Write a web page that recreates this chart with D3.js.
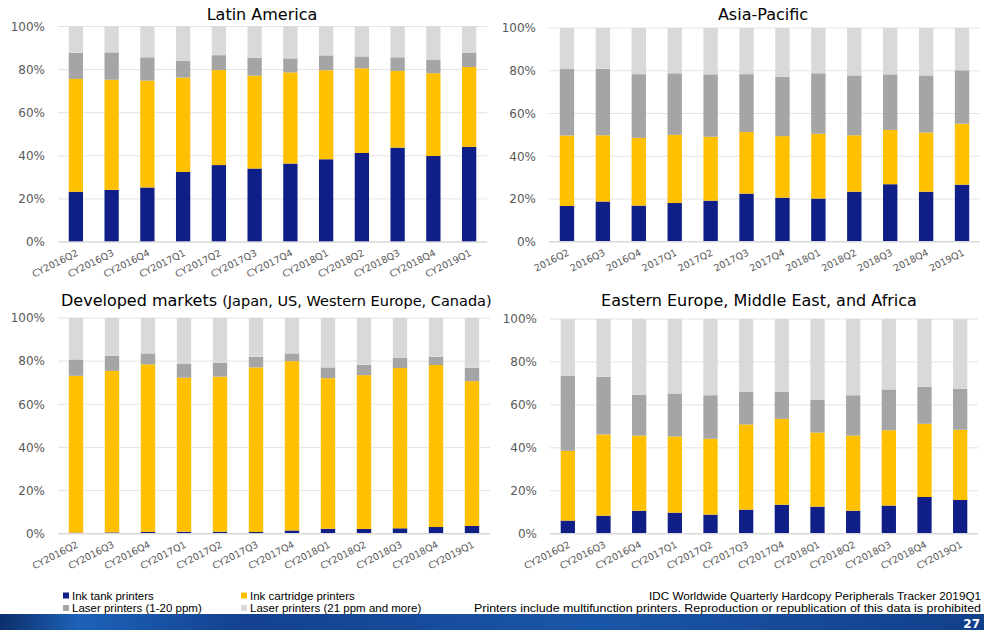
<!DOCTYPE html>
<html>
<head>
<meta charset="utf-8">
<script src="https://cdn.jsdelivr.net/npm/d3@7"></script>
<style>
  body { margin: 0; background: #fff; }
  svg { display: block; }
  .tick text { fill: #595959; }
</style>
</head>
<body>
<svg id="chart" width="984" height="630"></svg>
<script>
// quarters on the x axis
const quartersCY = ["CY2016Q2","CY2016Q3","CY2016Q4","CY2017Q1","CY2017Q2","CY2017Q3",
                    "CY2017Q4","CY2018Q1","CY2018Q2","CY2018Q3","CY2018Q4","CY2019Q1"];
const quartersAP = ["2016Q2","2016Q3","2016Q4","2017Q1","2017Q2","2017Q3",
                    "2017Q4","2018Q1","2018Q2","2018Q3","2018Q4","2019Q1"];

const seriesNames = ["Ink tank printers", "Ink cartridge printers",
                     "Laser printers (1-20 ppm)", "Laser printers (21 ppm and more)"];
const yTicks = [0, 20, 40, 60, 80, 100];

// shares in % (ink tank, ink cartridge, laser 1-20, laser 21+)
const latamInkTank   = [23.3,24.2,25.3,32.5,35.7,34.1,36.4,38.4,41.3,43.8,39.9,44.1];
const latamCartridge = [52.4,51.1,49.6,43.8,44.1,43.1,42.3,41.3,39.3,35.6,38.4,37.1];
const latamLaserLow  = [12.1,12.7,10.8,7.8,6.9,8.3,6.5,6.9,5.5,6.3,6.4,6.5];
const latamLaserHigh = [12.2,12.0,14.3,15.9,13.3,14.5,14.8,13.4,13.9,14.3,15.3,12.3];

const apInkTank   = [16.7,18.8,16.9,18.1,19.2,22.5,20.6,20.2,23.4,26.9,23.4,26.7];
const apCartridge = [33.0,31.0,31.7,31.9,29.9,28.8,28.8,30.3,26.4,25.4,27.7,28.5];
const apLaserLow  = [31.1,31.1,29.8,28.8,29.2,27.1,27.8,28.3,28.0,26.0,26.7,25.0];
const apLaserHigh = [19.2,19.1,21.6,21.2,21.7,21.6,22.8,21.2,22.2,21.7,22.2,19.8];

const devInkTank   = [0.5,0.6,0.8,0.9,0.9,0.8,1.5,2.3,2.2,2.5,3.1,3.6];
const devCartridge = [72.7,74.9,77.7,71.4,71.9,76.3,78.5,69.8,71.3,74.3,75.1,67.1];
const devLaserLow  = [7.6,7.0,5.1,6.6,6.5,4.9,3.6,5.0,4.8,4.8,3.8,6.2];
const devLaserHigh = [19.2,17.5,16.4,21.1,20.7,18.0,16.4,22.9,21.7,18.4,18.0,23.1];

const emeaInkTank   = [6.1,8.4,10.7,9.8,8.9,11.2,13.5,12.6,10.7,13.1,17.1,15.7];
const emeaCartridge = [32.5,37.8,35.0,35.5,35.3,39.7,40.0,34.5,35.0,35.1,34.1,32.7];
const emeaLaserLow  = [35.0,26.9,19.0,20.0,20.3,15.2,12.6,15.3,18.8,19.0,17.2,19.1];
const emeaLaserHigh = [26.4,26.9,35.3,34.7,35.5,33.9,33.9,37.6,35.5,32.8,31.6,32.5];

const colors = ["#0f1f87", "#ffc000", "#a5a5a5", "#d9d9d9"];
const font = "'DejaVu Sans', Verdana, sans-serif";
const smallFont = "'Liberation Sans', Arial, sans-serif";

const svg = d3.select("#chart");

// bottom blue band
const defs = svg.append("defs");
const grad = defs.append("linearGradient").attr("id", "band");
grad.append("stop").attr("offset", "0%").attr("stop-color", "#0c2f6b");
grad.append("stop").attr("offset", "8%").attr("stop-color", "#1d62b8");
grad.append("stop").attr("offset", "25%").attr("stop-color", "#13418f");
grad.append("stop").attr("offset", "60%").attr("stop-color", "#1a56a8");
grad.append("stop").attr("offset", "100%").attr("stop-color", "#123f8a");
svg.append("rect").attr("x", 0).attr("y", 614).attr("width", 984).attr("height", 16)
  .attr("fill", "url(#band)");
svg.append("text").attr("x", 980).attr("y", 628).attr("text-anchor", "end")
  .attr("fill", "#fff").attr("font-weight", "bold").attr("font-family", font)
  .attr("font-size", 12).text("27");

function toRows(cats, a, b, c, d) {
  return cats.map((q, i) => ({ q: q, s0: a[i], s1: b[i], s2: c[i], s3: d[i] }));
}

function drawPanel(opt) {
  const g = svg.append("g");
  const x = d3.scaleBand().domain(opt.cats).range([opt.x0, opt.x1])
    .paddingInner(0.6).paddingOuter(0.3);
  const y = d3.scaleLinear().domain([0, 100]).range([opt.yb, opt.yt]);

  // grid
  g.selectAll("line.grid").data(yTicks.slice(1)).enter().append("line")
    .attr("x1", opt.x0).attr("x2", opt.x1)
    .attr("y1", d => y(d)).attr("y2", d => y(d))
    .attr("stroke", "#e3e3e3").attr("stroke-width", 1);

  const rows = toRows(opt.cats, opt.a, opt.b, opt.c, opt.d);
  const stack = d3.stack().keys(["s0", "s1", "s2", "s3"])(rows);

  g.selectAll("g.layer").data(stack).enter().append("g")
    .attr("fill", (d, i) => colors[i])
    .selectAll("rect").data(d => d).enter().append("rect")
    .attr("x", d => x(d.data.q))
    .attr("width", x.bandwidth())
    .attr("y", d => y(d[1]))
    .attr("height", d => y(d[0]) - y(d[1]));

  // baseline
  g.append("line").attr("x1", opt.x0).attr("x2", opt.x1)
    .attr("y1", y(0)).attr("y2", y(0))
    .attr("stroke", "#d9d9d9").attr("stroke-width", 1.5);

  // y axis
  const ya = g.append("g").attr("transform", `translate(${opt.x0},0)`)
    .call(d3.axisLeft(y).tickValues(yTicks).tickFormat(d => d + "%").tickSize(0).tickPadding(13));
  ya.select(".domain").remove();
  ya.selectAll("text").attr("font-family", font).attr("font-size", 12).attr("fill", "#595959");

  // x axis
  const xa = g.append("g").attr("transform", `translate(0,${opt.yb})`)
    .call(d3.axisBottom(x).tickSize(0));
  xa.select(".domain").remove();
  xa.selectAll("text")
    .attr("font-family", font).attr("font-size", 9.5).attr("fill", "#595959")
    .attr("text-anchor", "end")
    .attr("dy", 0).attr("y", 0)
    .attr("transform", "translate(3,13) rotate(-27)");

  // title
  if (opt.title) {
    g.append("text").attr("x", opt.tx).attr("y", opt.ty).attr("text-anchor", "middle")
      .attr("font-family", font).attr("font-size", 16).attr("fill", "#000")
      .text(opt.title);
  }
  return g;
}

drawPanel({ cats: quartersCY, a: latamInkTank, b: latamCartridge, c: latamLaserLow, d: latamLaserHigh,
  x0: 58, x1: 487, yt: 26.5, yb: 242, title: "Latin America", tx: 262, ty: 20 });
drawPanel({ cats: quartersAP, a: apInkTank, b: apCartridge, c: apLaserLow, d: apLaserHigh,
  x0: 549, x1: 980, yt: 28, yb: 241.7, title: "Asia-Pacific", tx: 763, ty: 20 });
drawPanel({ cats: quartersCY, a: devInkTank, b: devCartridge, c: devLaserLow, d: devLaserHigh,
  x0: 58, x1: 490, yt: 318, yb: 533.7 });
drawPanel({ cats: quartersCY, a: emeaInkTank, b: emeaCartridge, c: emeaLaserLow, d: emeaLaserHigh,
  x0: 550, x1: 978, yt: 319, yb: 533.7, title: "Eastern Europe, Middle East, and Africa", tx: 759, ty: 306 });

// developed markets title with smaller parenthetical
const devTitle = svg.append("text").attr("x", 61).attr("y", 306)
  .attr("font-family", font).attr("fill", "#000");
devTitle.append("tspan").attr("font-size", 16).text("Developed markets ");
devTitle.append("tspan").attr("font-size", 14.5).text("(Japan, US, Western Europe, Canada)");

// legend
const legendPos = [[63, 599.5], [241, 599.5], [63, 612], [241, 612]];
const leg = svg.append("g").selectAll("g").data(seriesNames).enter().append("g")
  .attr("transform", (d, i) => `translate(${legendPos[i][0]},${legendPos[i][1]})`);
leg.append("rect").attr("x", 0).attr("y", -7).attr("width", 6).attr("height", 6)
  .attr("fill", (d, i) => colors[i]);
leg.append("text").attr("x", 9).attr("y", 0)
  .attr("font-family", smallFont).attr("font-size", 11.5).attr("fill", "#000")
  .text(d => d);

// source notes
const notes = ["IDC Worldwide Quarterly Hardcopy Peripherals Tracker 2019Q1",
  "Printers include multifunction printers. Reproduction or republication of this data is prohibited"];
const noteWidths = [332, 507];
svg.append("g").selectAll("text").data(notes).enter().append("text")
  .attr("x", 981).attr("y", (d, i) => 599.5 + i * 12.5)
  .attr("text-anchor", "end")
  .attr("font-family", smallFont).attr("font-size", 11.5).attr("fill", "#000")
  .attr("textLength", (d, i) => noteWidths[i]).attr("lengthAdjust", "spacingAndGlyphs")
  .text(d => d);
</script>
</body>
</html>
